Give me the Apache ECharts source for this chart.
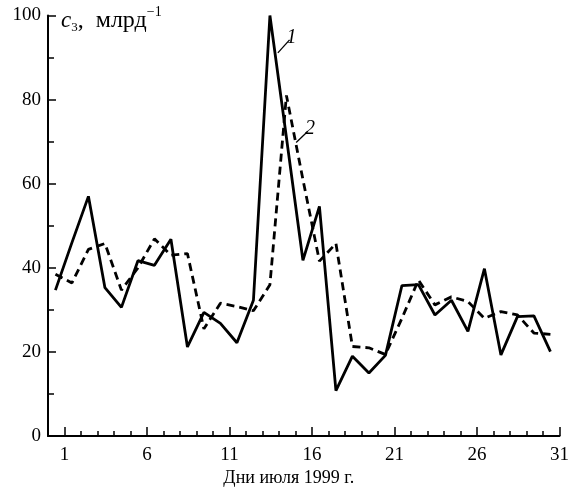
<!DOCTYPE html>
<html>
<head>
<meta charset="UTF-8">
<title></title>
<script src="https://cdn.jsdelivr.net/npm/echarts@6.0.0/dist/echarts.min.js"></script>
<style type="text/css">
	html, body { margin: 0; padding: 0; background: #fff; }
	#main { width: 572px; height: 492px; }
</style>
</head>
<body>
<div id="main"></div>
<script type="text/javascript">
	// дни июля, значения c3 (млрд^-1) для двух кривых
	var days = [1,2,3,4,5,6,7,8,9,10,11,12,13,14,15,16,17,18,19,20,21,22,23,24,25,26,27,28,29,30,31]
	var curve1 = [34.7,46,57,35.3,30.6,41.7,40.6,46.8,21.2,29.4,26.8,22.2,32.3,100,71,41.8,54.6,10.8,19,15,19.2,35.8,36,28.8,32.3,24.9,39.8,19.3,28.4,28.6,20.1]
	var curve2 = [38.5,36.4,44.4,45.8,34.7,40,46.9,43,43.4,25.5,31.6,30.8,29.8,36,81,61,41.6,45.8,21.3,21,19.4,28,37.1,31.2,33.1,32,28,29.6,28.8,24.5,24.2]
	var xTicks = [1,6,11,16,21,26,31]
	// на исходном графике точки сдвинуты примерно на полдня влево
	var shift = -0.55
	// выноски для подписей кривых
	var lead1 = [[13.93, 91.1], [14.64, 94.2]]
	var lead2 = [[15.04, 69.8], [15.75, 72.5]]

	var font = 'Liberation Serif'

	function pts(vals) {
		var out = []
		days.forEach(function(d, i) {
			out.push([d + shift, vals[i]])
		})
		return out
	}

	function leader(txt, seg) {
		return {
			symbol: ['none', 'none'],
			silent: true,
			animation: false,
			lineStyle: { color: '#000', width: 1.3, type: 'solid' },
			label: {
				show: true, position: 'end', distance: 3, formatter: txt,
				fontStyle: 'italic', fontFamily: font, fontSize: 20, color: '#000'
			},
			emphasis: { disabled: true },
			data: [[{ coord: seg[0] }, { coord: seg[1] }]]
		}
	}

	var myChart = echarts.init(document.getElementById('main'));
	var option = {
		animation: false,
		backgroundColor: '#fff',
		grid: { left: 48, right: 12, top: 15.5, bottom: 53.5 },
		xAxis: [{
			type: 'value', min: 0, max: 31, position: 'bottom',
			axisLine: { lineStyle: { color: '#000', width: 2 } },
			axisTick: { customValues: xTicks, inside: true, length: 9, lineStyle: { color: '#000', width: 1.5 } },
			axisLabel: { customValues: xTicks, color: '#000', fontFamily: font, fontSize: 19, margin: 9 },
			splitLine: { show: false },
			name: 'Дни июля 1999 г.', nameLocation: 'middle', nameGap: 32,
			nameTextStyle: { color: '#000', fontFamily: font, fontSize: 18, padding: [0, 30, 0, 0] }
		}, {
			type: 'value', min: 0, max: 31, interval: 1, position: 'bottom',
			axisLine: { show: false },
			axisTick: { inside: true, length: 5, lineStyle: { color: '#000', width: 1.5 } },
			axisLabel: { show: false },
			splitLine: { show: false }
		}],
		yAxis: {
			type: 'value', min: 0, max: 100, interval: 20,
			axisLine: { show: true, lineStyle: { color: '#000', width: 2 } },
			axisTick: { inside: true, length: 8, lineStyle: { color: '#000', width: 1.5 } },
			minorTick: { show: true, splitNumber: 2, length: 6, lineStyle: { color: '#000', width: 1.5 } },
			axisLabel: { color: '#000', fontFamily: font, fontSize: 19, margin: 7 },
			splitLine: { show: false },
			name: '{i|c}{s|3}{n|,  млрд}{p|−1}',
			nameLocation: 'end', nameGap: -5,
			nameTextStyle: {
				align: 'left', verticalAlign: 'middle', padding: [0, 0, 0, 13],
				rich: {
					i: { fontFamily: font, fontStyle: 'italic', fontSize: 23, color: '#000' },
					s: { fontFamily: font, fontSize: 13, color: '#000', padding: [14, 0, 0, 0] },
					n: { fontFamily: font, fontSize: 24, color: '#000' },
					p: { fontFamily: font, fontSize: 14, color: '#000', padding: [0, 0, 16, 0] }
				}
			}
		},
		series: [{
			name: '1', type: 'line', xAxisIndex: 0, data: pts(curve1),
			symbol: 'none', lineStyle: { color: '#000', width: 2.8, type: 'solid' },
			markLine: leader('1', lead1), z: 3
		}, {
			name: '2', type: 'line', xAxisIndex: 0, data: pts(curve2),
			symbol: 'none', lineStyle: { color: '#000', width: 2.8, type: [8, 5] },
			markLine: leader('2', lead2), z: 2
		}]
	};
	myChart.setOption(option);
</script>
</body>
</html>
